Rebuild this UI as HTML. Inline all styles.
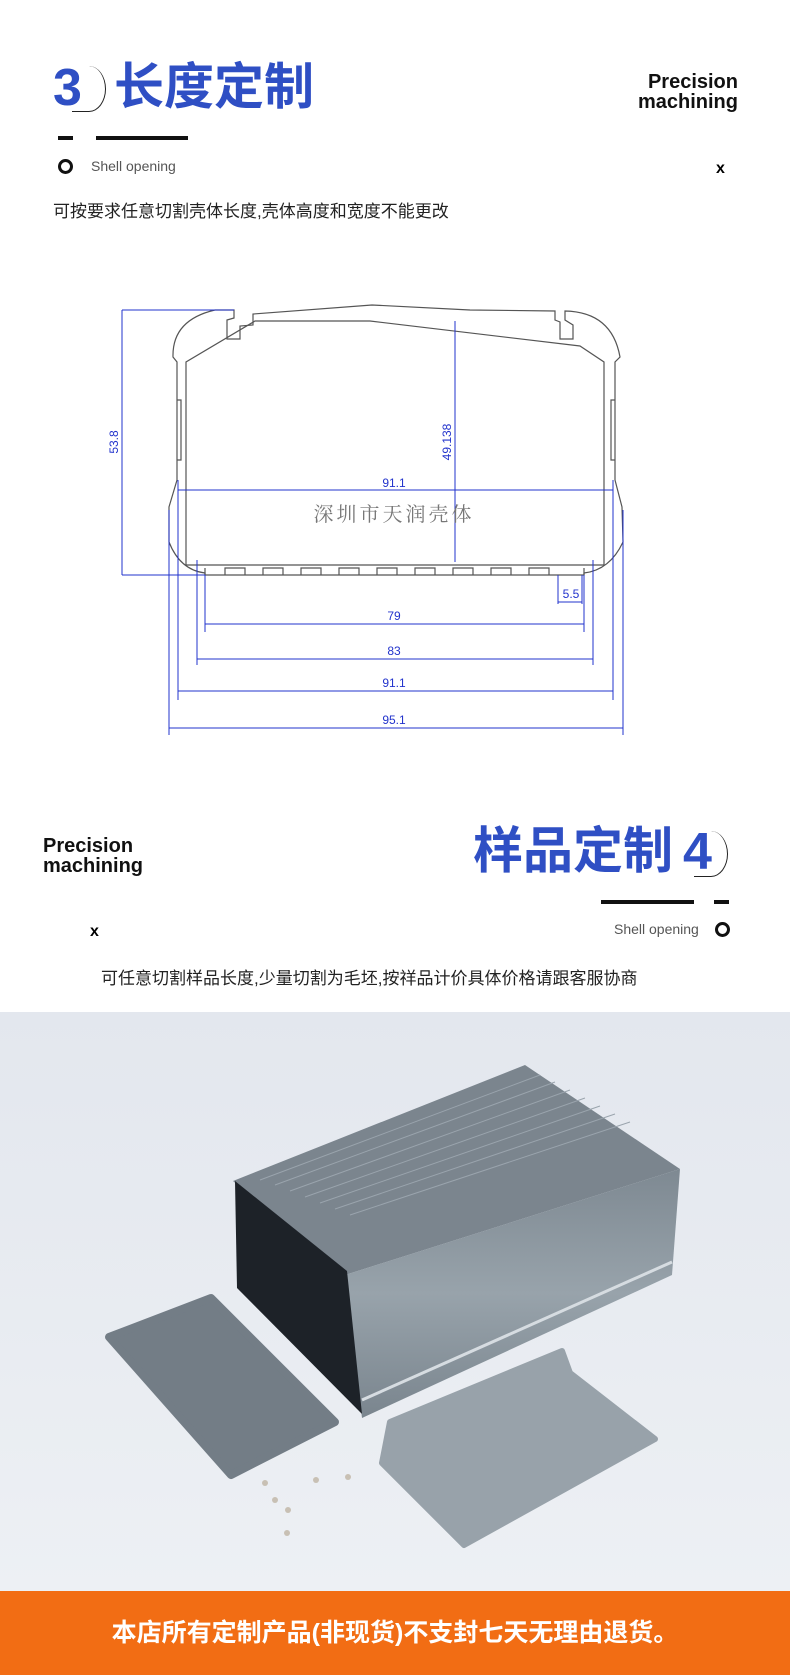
<!DOCTYPE html>
<html><head><meta charset="utf-8"><style>
*{margin:0;padding:0;box-sizing:border-box}
body{width:790px;height:1675px;position:relative;background:#fff;font-family:"Liberation Sans","Noto Sans CJK SC",sans-serif;overflow:hidden}
.a{position:absolute;white-space:nowrap}
.t{color:#2f4fc4;font-weight:bold;font-size:50px;line-height:1}
.pm{font-weight:bold;font-size:20px;line-height:20px;color:#111}
.so{font-size:14px;color:#555}
.cn{font-size:17px;color:#222}
.bar{background:#111;height:4px}
.circ{width:15px;height:15px;border:3px solid #111;border-radius:50%}
</style></head><body>
<div class="a t" style="left:53px;top:62px;font-size:52px">3</div>
<div class="a" style="left:72px;top:66px;width:34px;height:46px;border:1.5px solid #222;border-left:none;border-top:none;border-radius:0 50% 50% 0"></div>
<div class="a t" style="left:114px;top:62px">长度定制</div>
<div class="a pm" style="left:632px;top:72px;text-align:right;width:106px">Precision<br>machining</div>
<div class="a bar" style="left:58px;top:136px;width:15px"></div>
<div class="a bar" style="left:96px;top:136px;width:92px"></div>
<div class="a circ" style="left:58px;top:159px"></div>
<div class="a so" style="left:91px;top:158px">Shell opening</div>
<div class="a" style="left:716px;top:160px;font-size:16px;font-weight:bold">x</div>
<div class="a cn" style="left:53px;top:197px">可按要求任意切割壳体长度,壳体高度和宽度不能更改</div>

<svg class="a" style="left:0;top:0" width="790" height="760">
<g fill="none" stroke="#555" stroke-width="1.2">
<path d="M173,357 Q172,320 215,310 L234,310 L234,318 L227,320 L227,339 L240,339 L240,326 L253,325 L253,314 L372,305 L470,310 L555,311 L555,320 L560,322 L560,339 L573,339 L573,325 L565,320 L565,311 Q612,312 620,357 L615,362 L615,480 L622,507 L623,542 Q610,570 584,573 L584,575 L205,575 L205,573 Q180,570 169,542 L169,507 L177,480 L177,362 Z"/>
<path d="M186,362 L186,565 L604,565 L604,362 L580,346 L370,321 L255,321 Z"/>
<path d="M205,575 L205,568 M584,575 L584,568"/>
<path d="M225,575 L225,568 L245,568 L245,575 M263,575 L263,568 L283,568 L283,575 M301,575 L301,568 L321,568 L321,575 M339,575 L339,568 L359,568 L359,575 M377,575 L377,568 L397,568 L397,575 M415,575 L415,568 L435,568 L435,575 M453,575 L453,568 L473,568 L473,575 M491,575 L491,568 L511,568 L511,575 M529,575 L529,568 L549,568 L549,575"/>
<path d="M177,400 L181,400 L181,460 L177,460 M615,400 L611,400 L611,460 L615,460"/>
</g>
<g stroke="#2233cc" stroke-width="1" fill="none">
<path d="M122,310 L122,575 M122,310 L234,310 M122,575 L205,575"/>
<path d="M178,490 L613,490 M178,480 L178,700 M613,480 L613,700"/>
<path d="M455,321 L455,562"/>
<path d="M205,575 L205,632 M584,575 L584,632 M197,560 L197,665 M593,560 L593,665 M169,510 L169,735 M623,510 L623,735"/>
<path d="M205,624 L584,624 M197,659 L593,659 M178,691 L613,691 M169,728 L623,728"/>
<path d="M558,575 L558,604 M582,575 L582,604 M558,602 L582,602"/>
</g>
<g fill="#2233cc" font-family="Liberation Sans,sans-serif" font-size="12" text-anchor="middle">
<text x="394" y="487">91.1</text>
<text x="394" y="620">79</text>
<text x="394" y="655">83</text>
<text x="394" y="687">91.1</text>
<text x="394" y="724">95.1</text>
<text x="571" y="598">5.5</text>
<text transform="translate(118,442) rotate(-90)">53.8</text>
<text transform="translate(451,442) rotate(-90)">49.138</text>
</g>
<text x="394" y="521" text-anchor="middle" font-family="Noto Serif CJK SC,serif" font-size="20" fill="#777" letter-spacing="3">深圳市天润壳体</text>
</svg>

<div class="a pm" style="left:43px;top:836px">Precision<br>machining</div>
<div class="a t" style="left:473px;top:826px">样品定制</div>
<div class="a t" style="left:683px;top:826px;font-size:52px">4</div>
<div class="a" style="left:694px;top:831px;width:34px;height:46px;border:1.5px solid #222;border-left:none;border-top:none;border-radius:0 50% 50% 0"></div>
<div class="a bar" style="left:601px;top:900px;width:93px"></div>
<div class="a bar" style="left:714px;top:900px;width:15px"></div>
<div class="a so" style="left:614px;top:921px">Shell opening</div>
<div class="a circ" style="left:715px;top:922px"></div>
<div class="a" style="left:90px;top:923px;font-size:16px;font-weight:bold">x</div>
<div class="a cn" style="left:101px;top:964px">可任意切割样品长度,少量切割为毛坯,按祥品计价具体价格请跟客服协商</div>

<svg class="a" style="left:0;top:1012px" width="790" height="580" viewBox="0 1012 790 580">
<defs><linearGradient id="bg" x1="0" y1="0" x2="0" y2="1"><stop offset="0" stop-color="#e3e7ee"/><stop offset="1" stop-color="#edf0f4"/></linearGradient>
<linearGradient id="sd" x1="0" y1="0" x2="0" y2="1"><stop offset="0" stop-color="#7e8992"/><stop offset=".5" stop-color="#98a3ab"/><stop offset="1" stop-color="#7a858e"/></linearGradient></defs>
<rect x="0" y="1012" width="790" height="580" fill="url(#bg)"/>
<polygon points="233,1181 525,1065 680,1169 345,1275" fill="#7b858e"/>
<g stroke="#9aa4ad" stroke-width="1">
<path d="M260,1180 L540,1075 M275,1185 L555,1082 M290,1191 L570,1090 M305,1197 L585,1098 M320,1203 L600,1106 M335,1209 L615,1114 M350,1215 L630,1122"/>
</g>
<polygon points="345,1275 680,1169 672,1275 362,1418" fill="url(#sd)"/>
<path d="M362,1400 L672,1262" stroke="#d6dce1" stroke-width="3"/>
<polygon points="235,1181 347,1271 362,1414 237,1288" fill="#1d2228"/>
<polygon points="109,1337 211,1298 335,1422 231,1475" fill="#737d86" stroke="#737d86" stroke-width="8" stroke-linejoin="round"/>
<polygon points="382,1463 390,1422 562,1351 570,1373 655,1439 464,1545" fill="#98a2aa" stroke="#98a2aa" stroke-width="6" stroke-linejoin="round"/>
<g fill="#c8c0b4"><circle cx="265" cy="1483" r="3"/><circle cx="275" cy="1500" r="3"/><circle cx="316" cy="1480" r="3"/><circle cx="348" cy="1477" r="3"/><circle cx="288" cy="1510" r="3"/><circle cx="287" cy="1533" r="3"/></g>
</svg>

<div class="a" style="left:0;top:1591px;width:790px;height:84px;background:#f26d14;color:#fff;font-size:25px;font-weight:bold;text-align:center;line-height:84px">本店所有定制产品(非现货)不支封七天无理由退货。</div>
</body></html>
